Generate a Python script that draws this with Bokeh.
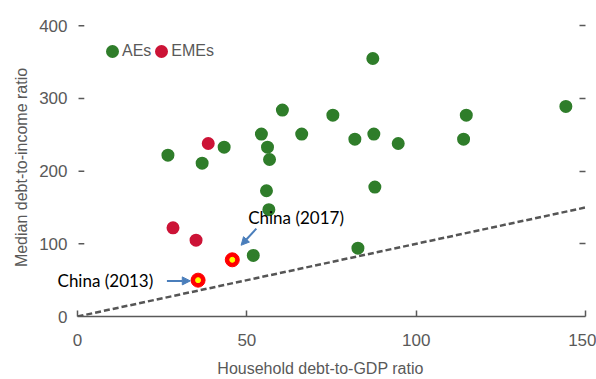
from bokeh.plotting import figure
from bokeh.models import (Range1d, LinearAxis, FixedTicker, Legend, LegendItem,
                          Label, Arrow, NormalHead)
from bokeh.embed import file_html
from bokeh.resources import INLINE

# ---- data ----
ae_x = [26.7, 36.8, 43.3, 54.3, 56.1, 56.7, 55.8, 56.5, 60.5, 66.2, 75.4, 81.9,
        87.5, 87.2, 87.8, 94.7, 114.0, 114.8, 144.2, 82.8, 51.9]
ae_y = [222, 211, 233, 251, 233, 216, 173, 147, 284, 251, 277, 244,
        251, 355, 178, 238, 244, 277, 289, 94, 84]
eme_x = [38.6, 28.2, 35.0]
eme_y = [238, 122, 105]
china_x = [35.6, 45.7]
china_y = [50, 78]
china_labels = ["China (2013)", "China (2017)"]
ref_x = [0, 150]
ref_y = [0, 150]
x_ticks = [0, 50, 100, 150]
y_ticks = [0, 100, 200, 300, 400]

GREEN = "#2f7d2a"
RED = "#cc1336"
GRAY = "#595959"
FONT = "Liberation Sans"

p = figure(width=596, height=379, output_backend="svg", toolbar_location=None,
           x_range=Range1d(-6.5, 150), y_range=Range1d(0, 410),
           min_border_left=55, min_border_right=11, min_border_top=18,
           min_border_bottom=62, outline_line_color=None)
p.grid.visible = False

# axes
p.xaxis.ticker = FixedTicker(ticks=x_ticks)
p.yaxis.ticker = FixedTicker(ticks=y_ticks)
for ax in (p.xaxis[0], p.yaxis[0]):
    ax.major_tick_in = 6
    ax.major_tick_out = 0
    ax.minor_tick_line_color = None
    ax.major_tick_line_color = GRAY
    ax.major_tick_line_width = 1.5
    ax.major_label_text_font = FONT
    ax.major_label_text_font_size = "17px"
    ax.major_label_text_color = GRAY
    ax.axis_label_text_font = FONT
    ax.axis_label_text_font_size = "16px"
    ax.axis_label_text_font_style = "normal"
    ax.axis_label_text_color = GRAY
p.xaxis.axis_line_color = GRAY
p.xaxis.axis_line_width = 1.5
p.xaxis.bounds = (x_ticks[0], x_ticks[-1])
p.yaxis.axis_line_color = None
p.yaxis.major_tick_line_color = None
p.xaxis.axis_label = "Household debt-to-GDP ratio"
p.yaxis.axis_label = "Median debt-to-income ratio"
p.xaxis.major_label_standoff = 17
p.xaxis.axis_label_standoff = 11
p.yaxis.major_label_standoff = -12
p.yaxis.axis_label_standoff = 6

right = LinearAxis(ticker=FixedTicker(ticks=y_ticks[1:]), axis_line_color=None,
                   major_tick_in=6, major_tick_out=0, major_tick_line_color=GRAY,
                   major_tick_line_width=1.5, minor_tick_line_color=None,
                   major_label_overrides={t: "" for t in y_ticks},
                   major_label_standoff=0)
p.add_layout(right, "right")

# y tick marks at x = 0 (inside the plot)
p.segment(x0=[0.3] * len(y_ticks), x1=[2.0] * len(y_ticks), y0=y_ticks, y1=y_ticks,
          line_color=GRAY, line_width=1.5)

# reference line
p.line(ref_x, ref_y, line_color="#555555", line_width=2.5, line_dash="6 3")

# points (size 8 + 5px outline = 13px dots; gives matching legend dots)
r_ae = p.scatter(ae_x, ae_y, size=8, fill_color=GREEN, line_color=GREEN, line_width=5)
r_eme = p.scatter(eme_x, eme_y, size=8, fill_color=RED, line_color=RED, line_width=5)
p.scatter(china_x, china_y, size=14, fill_color="#ff0000", line_color="#ff0000")
p.scatter(china_x, china_y, size=5, fill_color="#ffff00", line_color="#ffff00")

legend = Legend(items=[LegendItem(label="AEs", renderers=[r_ae]),
                       LegendItem(label="EMEs", renderers=[r_eme])],
                orientation="horizontal", location=(47, 255),
                border_line_color=None, background_fill_alpha=0,
                padding=0, margin=0, spacing=0, glyph_width=20, glyph_height=20,
                label_standoff=0, label_text_font=FONT,
                label_text_font_size="16px", label_text_color=GRAY)
p.add_layout(legend, "center")

# annotations
ann_font = "Lato"
p.add_layout(Label(x=china_x[0] - 41.5, y=china_y[0], text=china_labels[0],
                   text_font=ann_font, text_font_size="17px",
                   text_baseline="middle", text_color="black"))
p.add_layout(Label(x=china_x[1] + 4.7, y=china_y[1] + 58, text=china_labels[1],
                   text_font=ann_font, text_font_size="17px",
                   text_baseline="middle", text_color="black"))
ARROW = "#4a7ebb"
p.add_layout(Arrow(x_start=china_x[0] - 9.2, y_start=china_y[0] - 1,
                   x_end=china_x[0] - 2.3, y_end=china_y[0] - 1,
                   line_color=ARROW, line_width=2,
                   end=NormalHead(size=8, fill_color=ARROW, line_color=ARROW)))
p.add_layout(Arrow(x_start=china_x[1] + 7.1, y_start=china_y[1] + 43,
                   x_end=china_x[1] + 2.6, y_end=china_y[1] + 20,
                   line_color=ARROW, line_width=2,
                   end=NormalHead(size=8, fill_color=ARROW, line_color=ARROW)))

open("out.html", "w").write(file_html(p, INLINE))
